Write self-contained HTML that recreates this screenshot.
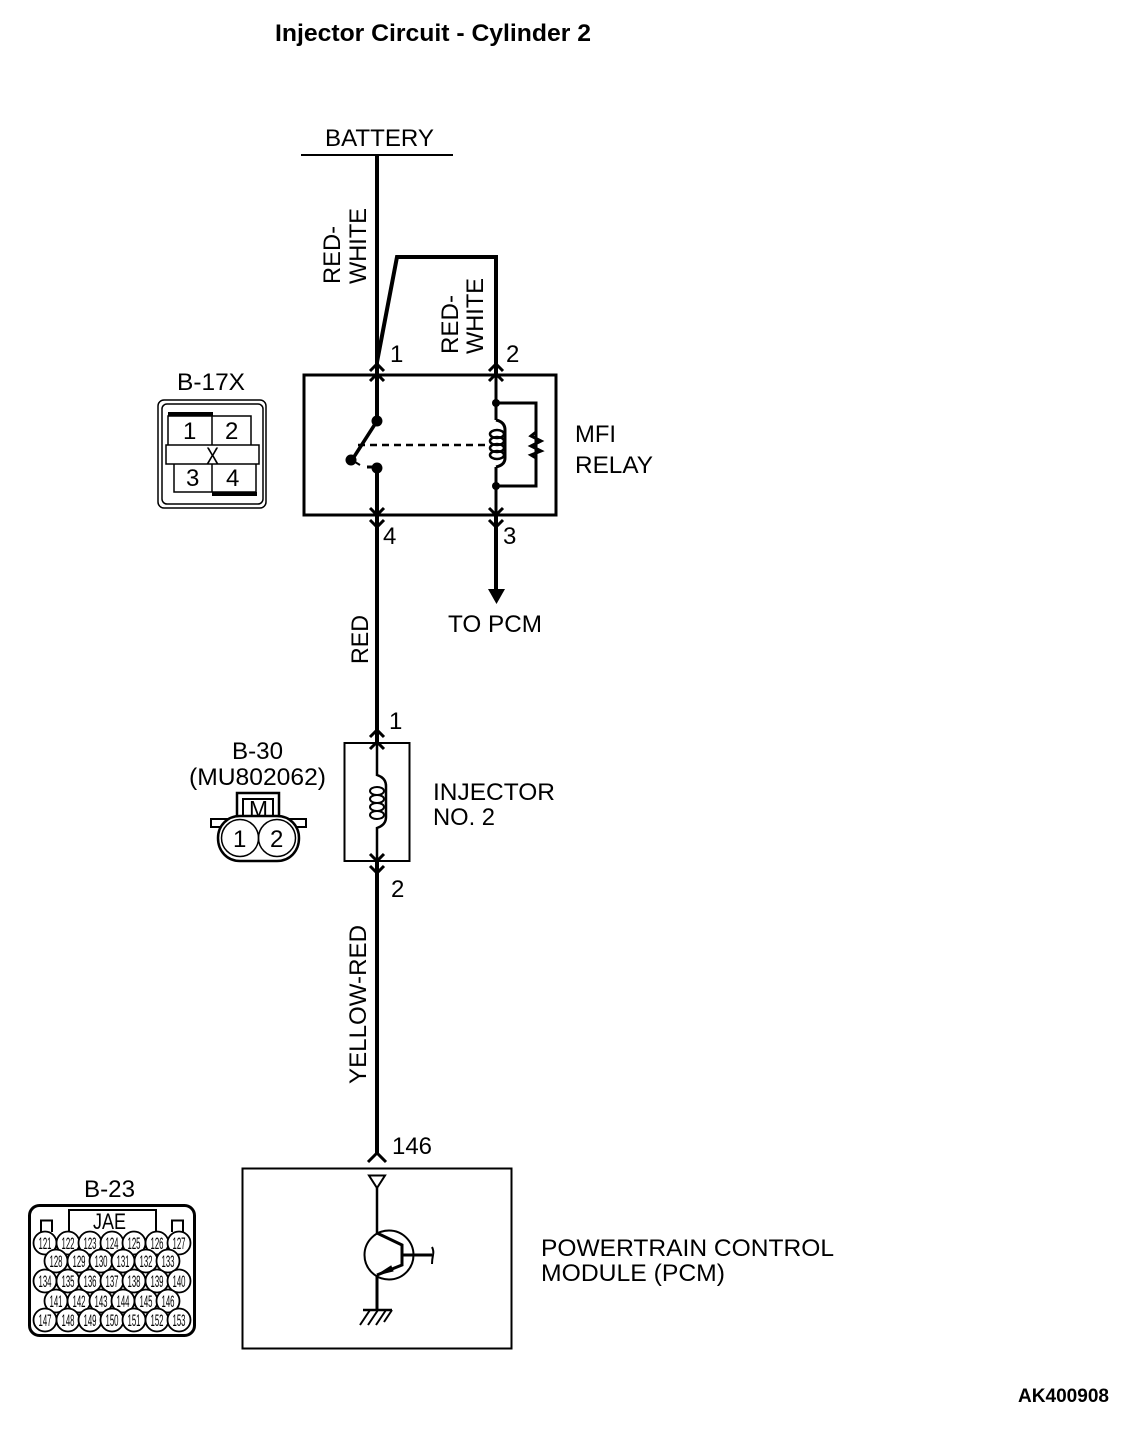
<!DOCTYPE html>
<html>
<head>
<meta charset="utf-8">
<title>Injector Circuit - Cylinder 2</title>
<style>
html,body{margin:0;padding:0;background:#fff;}
svg{display:block;}
text{font-family:"Liberation Sans",sans-serif;fill:#000;font-size:24px;}
.b{font-weight:bold;}
.pin text{font-size:17px;text-anchor:middle;}
.w{fill:none;stroke:#000;stroke-width:4;}
.t{fill:none;stroke:#000;stroke-width:3;}
.n{fill:none;stroke:#000;stroke-width:2;}
.h{fill:none;stroke:#000;stroke-width:1.5;}
</style>
</head>
<body>
<svg width="1136" height="1430" viewBox="0 0 1136 1430" xmlns="http://www.w3.org/2000/svg">
<rect width="1136" height="1430" fill="#fff"/>

<text class="b" x="275" y="41" textLength="316" lengthAdjust="spacingAndGlyphs">Injector Circuit - Cylinder 2</text>
<text class="b" x="1018" y="1402" style="font-size:19px" textLength="91" lengthAdjust="spacingAndGlyphs">AK400908</text>

<!-- Battery -->
<text x="325" y="146" textLength="109" lengthAdjust="spacingAndGlyphs">BATTERY</text>
<line x1="301" y1="155" x2="453" y2="155" class="n"/>
<path class="w" d="M377 155V374"/>
<path class="w" d="M377 362L397 257H496V374"/>

<text transform="translate(340 284) rotate(-90)" textLength="58" lengthAdjust="spacingAndGlyphs">RED-</text>
<text transform="translate(366 284) rotate(-90)" textLength="76" lengthAdjust="spacingAndGlyphs">WHITE</text>
<text transform="translate(458 354) rotate(-90)" textLength="59" lengthAdjust="spacingAndGlyphs">RED-</text>
<text transform="translate(483 354) rotate(-90)" textLength="76" lengthAdjust="spacingAndGlyphs">WHITE</text>

<text x="390" y="362">1</text>
<text x="506" y="362">2</text>

<!-- B-17X connector -->
<text x="177" y="390" textLength="68" lengthAdjust="spacingAndGlyphs">B-17X</text>
<rect x="158" y="400" width="108" height="108" rx="6" class="n" style="stroke-width:1.5"/>
<rect x="162" y="404" width="101" height="100" rx="5" class="n" style="stroke-width:1.5"/>
<path class="h" d="M168 445V416H251V445M212 416V445M174 464V492H256V464M212 464V492"/>
<rect x="168" y="412" width="45" height="4" fill="#000"/>
<rect x="212" y="492" width="45" height="4" fill="#000"/>
<rect x="166" y="445" width="93" height="19" fill="#fff" stroke="#000" stroke-width="1.5"/>
<text x="183" y="439">1</text>
<text x="225" y="439">2</text>
<text x="186" y="486">3</text>
<text x="226" y="486">4</text>
<text x="206" y="464" style="font-size:24px" textLength="13" lengthAdjust="spacingAndGlyphs">X</text>

<!-- MFI relay -->
<rect x="304" y="375" width="252" height="140" class="t"/>
<path class="w" d="M377 374V421"/>
<circle cx="377" cy="421" r="5.5"/>
<path class="w" d="M377 421L352 460" style="stroke-width:3.5"/>
<circle cx="351" cy="460" r="5.5"/>
<path class="n" d="M355 462L360 465"/>
<path class="t" d="M367 467H377"/>
<circle cx="377" cy="468" r="5.5"/>
<path class="w" d="M377 468V515"/>
<path d="M358 445H487" fill="none" stroke="#000" stroke-width="2.5" stroke-dasharray="7 5"/>

<path class="w" d="M496 374V420" style="stroke-width:3"/>
<circle cx="496" cy="403" r="4"/>
<path class="t" d="M496 403H536V486H496"/>
<circle cx="496" cy="486" r="4"/>
<path class="w" d="M496 467V515" style="stroke-width:3"/>
<path class="t" d="M496 420Q505 422 505 430V458Q505 465 496 467"/>
<ellipse cx="497" cy="434" rx="7" ry="4" class="n" style="stroke-width:2.5"/>
<ellipse cx="497" cy="441" rx="7" ry="4" class="n" style="stroke-width:2.5"/>
<ellipse cx="497" cy="448" rx="7" ry="4" class="n" style="stroke-width:2.5"/>
<ellipse cx="497" cy="455" rx="7" ry="4" class="n" style="stroke-width:2.5"/>
<path class="n" style="stroke-width:3" d="M536 432L531 436L541 441L531 446L541 451L531 455L536 458"/>

<!-- chevrons -->
<g style="fill:none;stroke:#000;stroke-width:3">
<path d="M370 371L377 364L384 371M370 381L377 374L384 381"/>
<path d="M489 371L496 364L503 371M489 381L496 374L503 381"/>
<path d="M370 508L377 515L384 508M370 520L377 527L384 520"/>
<path d="M489 508L496 515L503 508M489 520L496 527L503 520"/>
<path d="M370 737L377 730L384 737M370 749L377 742L384 749"/>
<path d="M370 854L377 861L384 854M370 866L377 873L384 866"/>
<path d="M368 1162L377 1153L386 1162"/>
</g>

<text x="575" y="442" textLength="41" lengthAdjust="spacingAndGlyphs">MFI</text>
<text x="575" y="473" textLength="78" lengthAdjust="spacingAndGlyphs">RELAY</text>
<text x="383" y="544">4</text>
<text x="503" y="544">3</text>

<!-- to PCM -->
<path class="w" d="M496 515V592"/>
<path d="M488 589H505L496.500 604Z"/>
<text x="448" y="632" textLength="94" lengthAdjust="spacingAndGlyphs">TO PCM</text>

<!-- main wire -->
<path class="w" d="M377 515V743"/>
<text transform="translate(368 664) rotate(-90)" textLength="49" lengthAdjust="spacingAndGlyphs">RED</text>
<text x="389" y="729">1</text>

<!-- Injector -->
<rect x="344.500" y="743" width="65" height="118" class="n"/>
<path class="t" style="stroke-width:2.5" d="M377 743V775Q386 778 386 786V817Q386 825 377 828V861"/>
<ellipse cx="377" cy="791" rx="7" ry="4" class="n"/>
<ellipse cx="377" cy="799" rx="7" ry="4" class="n"/>
<ellipse cx="377" cy="807" rx="7" ry="4" class="n"/>
<ellipse cx="377" cy="815" rx="7" ry="4" class="n"/>
<text x="433" y="800" textLength="122" lengthAdjust="spacingAndGlyphs">INJECTOR</text>
<text x="433" y="825" textLength="62" lengthAdjust="spacingAndGlyphs">NO. 2</text>
<text x="391" y="897">2</text>

<!-- B-30 connector -->
<text x="232" y="759" textLength="51" lengthAdjust="spacingAndGlyphs">B-30</text>
<text x="189" y="785" textLength="137" lengthAdjust="spacingAndGlyphs">(MU802062)</text>
<path class="n" style="stroke-width:2.5" d="M237 818V793H279V818"/>
<path class="n" d="M243 818V799H273V818"/>
<text x="249" y="817" style="font-size:23px" textLength="19" lengthAdjust="spacingAndGlyphs">M</text>
<path class="n" d="M222 827H211V819H306V827H295"/>
<path fill="#fff" stroke="#000" stroke-width="2.5" d="M240 816H277C290 816 299 826 299 838C299 851 290 861 277 861H240C227 861 218 851 218 838C218 826 227 816 240 816Z"/>
<circle cx="240" cy="838" r="18.500" fill="#fff" stroke="#000" stroke-width="1.500"/>
<circle cx="277" cy="838" r="18.500" fill="none" stroke="#000" stroke-width="1.500"/>
<text x="233" y="847">1</text>
<text x="270" y="847">2</text>

<!-- lower wire -->
<path class="w" d="M377 861V1155"/>
<text transform="translate(366 1084) rotate(-90)" textLength="159" lengthAdjust="spacingAndGlyphs">YELLOW-RED</text>
<text x="392" y="1154" textLength="40" lengthAdjust="spacingAndGlyphs">146</text>

<!-- PCM -->
<rect x="242.500" y="1168.500" width="269" height="180" class="n"/>
<path class="n" d="M369 1175.500H385L377 1188Z"/>
<path class="n" d="M377 1188V1233" style="stroke-width:2.500"/>
<circle cx="389" cy="1255" r="24.500" class="n"/>
<path class="n" style="stroke-width:3" d="M377 1233L402 1245V1265L377 1275M402 1255H432"/>
<path d="M377 1275L391 1266L393 1271Z" stroke="#000"/>
<path class="n" d="M432 1247Q434 1251 433 1255Q432 1260 432 1264"/>
<path class="n" style="stroke-width:3" d="M377 1275V1310"/>
<path class="n" style="stroke-width:2.500" d="M363 1310H392"/>
<path class="n" d="M370 1310L360 1325M378 1310L368 1325M386 1310L376 1325M392 1310L384 1322"/>
<text x="541" y="1256" textLength="293" lengthAdjust="spacingAndGlyphs">POWERTRAIN CONTROL</text>
<text x="541" y="1281" textLength="184" lengthAdjust="spacingAndGlyphs">MODULE (PCM)</text>

<!-- B-23 connector -->
<text x="84" y="1197" textLength="51" lengthAdjust="spacingAndGlyphs">B-23</text>
<rect x="29.500" y="1205.500" width="165" height="130" rx="10" fill="none" stroke="#000" stroke-width="3"/>
<path class="h" d="M69 1232V1210H156V1232" style="stroke-width:2"/>
<path class="n" d="M41 1232V1220.500H52V1232M172 1232V1220.500H183V1232"/>
<text x="93" y="1229" style="font-size:22px" textLength="33" lengthAdjust="spacingAndGlyphs">JAE</text>
<g class="pin">
<g fill="#fff" stroke="#000" stroke-width="1.800">
<circle cx="45" cy="1243" r="11.500"/><circle cx="68" cy="1243" r="11.500"/><circle cx="90" cy="1243" r="11.500"/><circle cx="112" cy="1243" r="11.500"/><circle cx="134" cy="1243" r="11.500"/><circle cx="157" cy="1243" r="11.500"/><circle cx="179" cy="1243" r="11.500"/>
<circle cx="56" cy="1261" r="11.500"/><circle cx="79" cy="1261" r="11.500"/><circle cx="101" cy="1261" r="11.500"/><circle cx="123" cy="1261" r="11.500"/><circle cx="146" cy="1261" r="11.500"/><circle cx="168" cy="1261" r="11.500"/>
<circle cx="45" cy="1281" r="11.500"/><circle cx="68" cy="1281" r="11.500"/><circle cx="90" cy="1281" r="11.500"/><circle cx="112" cy="1281" r="11.500"/><circle cx="134" cy="1281" r="11.500"/><circle cx="157" cy="1281" r="11.500"/><circle cx="179" cy="1281" r="11.500"/>
<circle cx="56" cy="1301" r="11.500"/><circle cx="79" cy="1301" r="11.500"/><circle cx="101" cy="1301" r="11.500"/><circle cx="123" cy="1301" r="11.500"/><circle cx="146" cy="1301" r="11.500"/><circle cx="168" cy="1301" r="11.500"/>
<circle cx="45" cy="1320" r="11.500"/><circle cx="68" cy="1320" r="11.500"/><circle cx="90" cy="1320" r="11.500"/><circle cx="112" cy="1320" r="11.500"/><circle cx="134" cy="1320" r="11.500"/><circle cx="157" cy="1320" r="11.500"/><circle cx="179" cy="1320" r="11.500"/>
</g>
<text x="45" y="1249" textLength="13" lengthAdjust="spacingAndGlyphs">121</text><text x="68" y="1249" textLength="13" lengthAdjust="spacingAndGlyphs">122</text><text x="90" y="1249" textLength="13" lengthAdjust="spacingAndGlyphs">123</text><text x="112" y="1249" textLength="13" lengthAdjust="spacingAndGlyphs">124</text><text x="134" y="1249" textLength="13" lengthAdjust="spacingAndGlyphs">125</text><text x="157" y="1249" textLength="13" lengthAdjust="spacingAndGlyphs">126</text><text x="179" y="1249" textLength="13" lengthAdjust="spacingAndGlyphs">127</text>
<text x="56" y="1267" textLength="13" lengthAdjust="spacingAndGlyphs">128</text><text x="79" y="1267" textLength="13" lengthAdjust="spacingAndGlyphs">129</text><text x="101" y="1267" textLength="13" lengthAdjust="spacingAndGlyphs">130</text><text x="123" y="1267" textLength="13" lengthAdjust="spacingAndGlyphs">131</text><text x="146" y="1267" textLength="13" lengthAdjust="spacingAndGlyphs">132</text><text x="168" y="1267" textLength="13" lengthAdjust="spacingAndGlyphs">133</text>
<text x="45" y="1287" textLength="13" lengthAdjust="spacingAndGlyphs">134</text><text x="68" y="1287" textLength="13" lengthAdjust="spacingAndGlyphs">135</text><text x="90" y="1287" textLength="13" lengthAdjust="spacingAndGlyphs">136</text><text x="112" y="1287" textLength="13" lengthAdjust="spacingAndGlyphs">137</text><text x="134" y="1287" textLength="13" lengthAdjust="spacingAndGlyphs">138</text><text x="157" y="1287" textLength="13" lengthAdjust="spacingAndGlyphs">139</text><text x="179" y="1287" textLength="13" lengthAdjust="spacingAndGlyphs">140</text>
<text x="56" y="1307" textLength="13" lengthAdjust="spacingAndGlyphs">141</text><text x="79" y="1307" textLength="13" lengthAdjust="spacingAndGlyphs">142</text><text x="101" y="1307" textLength="13" lengthAdjust="spacingAndGlyphs">143</text><text x="123" y="1307" textLength="13" lengthAdjust="spacingAndGlyphs">144</text><text x="146" y="1307" textLength="13" lengthAdjust="spacingAndGlyphs">145</text><text x="168" y="1307" textLength="13" lengthAdjust="spacingAndGlyphs">146</text>
<text x="45" y="1326" textLength="13" lengthAdjust="spacingAndGlyphs">147</text><text x="68" y="1326" textLength="13" lengthAdjust="spacingAndGlyphs">148</text><text x="90" y="1326" textLength="13" lengthAdjust="spacingAndGlyphs">149</text><text x="112" y="1326" textLength="13" lengthAdjust="spacingAndGlyphs">150</text><text x="134" y="1326" textLength="13" lengthAdjust="spacingAndGlyphs">151</text><text x="157" y="1326" textLength="13" lengthAdjust="spacingAndGlyphs">152</text><text x="179" y="1326" textLength="13" lengthAdjust="spacingAndGlyphs">153</text>
</g>
</svg>
</body>
</html>
